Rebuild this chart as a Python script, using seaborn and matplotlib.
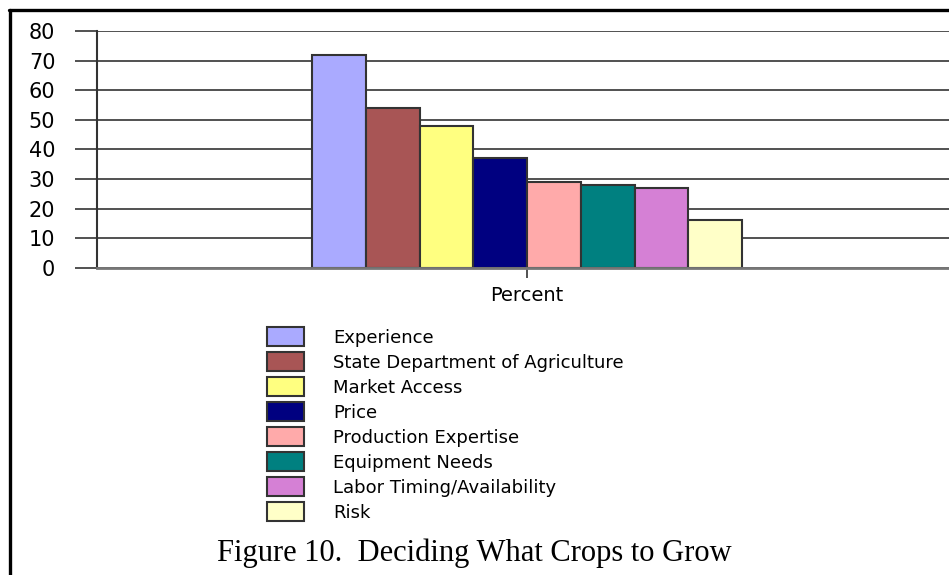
import matplotlib
matplotlib.use("Agg")
import matplotlib.pyplot as plt
from matplotlib.lines import Line2D
import seaborn as sns
import pandas as pd

# Survey results: factors used when deciding what crops to grow
factors = [
    "Experience",
    "State Department of Agriculture",
    "Market Access",
    "Price",
    "Production Expertise",
    "Equipment Needs",
    "Labor Timing/Availability",
    "Risk",
]
percent = [72, 54, 48, 37, 29, 28, 27, 16]
group = ["Percent"] * len(factors)
y_ticks = [0, 10, 20, 30, 40, 50, 60, 70, 80]
colors = ["#AAAAFF", "#A85555", "#FFFF80", "#000080",
          "#FFAAAA", "#008080", "#D580D5", "#FFFFC8"]
caption = "Figure 10.  Deciding What Crops to Grow"

df = pd.DataFrame({"group": group, "factor": factors, "percent": percent})

sns.set_theme(style="white")
plt.rcParams["font.family"] = ["DejaVu Sans"]

W, H = 949, 575
fig = plt.figure(figsize=(W / 100, H / 100), dpi=100)
fig.patch.set_facecolor("white")

# Axes placed in pixel terms; the plot runs past the right edge of the canvas
ax_left, ax_right, ax_bottom, ax_top = 97, 957, 267.7, 31.1
ax = fig.add_axes([ax_left / W, 1 - ax_bottom / H,
                   (ax_right - ax_left) / W, (ax_bottom - ax_top) / H])

sns.barplot(data=df, x="group", y="percent", hue="factor", hue_order=factors,
            palette=colors, saturation=1, width=0.5, gap=0,
            edgecolor="#333333", linewidth=1.5, ax=ax)

ax.set_xlim(-0.5, 0.5)
ax.set_ylim(0, 80)
ax.set_yticks(y_ticks)
ax.set_yticklabels([str(t) for t in y_ticks])
ax.set_xlabel("")
ax.set_ylabel("")

ax.yaxis.grid(True, color="#333333", linewidth=1.2)
ax.xaxis.grid(False)
ax.set_axisbelow(True)

for side in ("top", "right"):
    ax.spines[side].set_visible(False)
ax.spines["left"].set_color("#333333")
ax.spines["left"].set_linewidth(1.5)
ax.spines["bottom"].set_color("#777777")
ax.spines["bottom"].set_linewidth(2)

ax.tick_params(axis="y", left=True, length=16, width=1.2, color="#333333",
               pad=14, labelsize=15, labelcolor="black")
ax.tick_params(axis="x", bottom=True, length=7, width=1.2, color="#333333",
               pad=6, labelsize=14, labelcolor="black")

# Legend stacked below the plot
handles, labels = ax.get_legend_handles_labels()
ax.legend(handles, labels, loc="upper left",
          bbox_to_anchor=(267 / W, 1 - 327 / H), bbox_transform=fig.transFigure,
          frameon=False, fontsize=13, labelcolor="black",
          handlelength=2.05, handleheight=1.25, handletextpad=1.6,
          labelspacing=0.30, borderpad=0, borderaxespad=0)

# Caption
fig.text(474 / W, 1 - 553 / H, caption, ha="center", va="center",
         family="Liberation Serif", fontsize=22, color="black")

# Page frame lines along the top and left edges
fig.add_artist(Line2D([9 / W, 1], [1 - 10 / H, 1 - 10 / H],
                      transform=fig.transFigure, color="black", linewidth=2.4))
fig.add_artist(Line2D([10 / W, 10 / W], [0, 1 - 10 / H],
                      transform=fig.transFigure, color="black", linewidth=2.4))

fig.savefig("out.png", dpi=100, facecolor="white")
